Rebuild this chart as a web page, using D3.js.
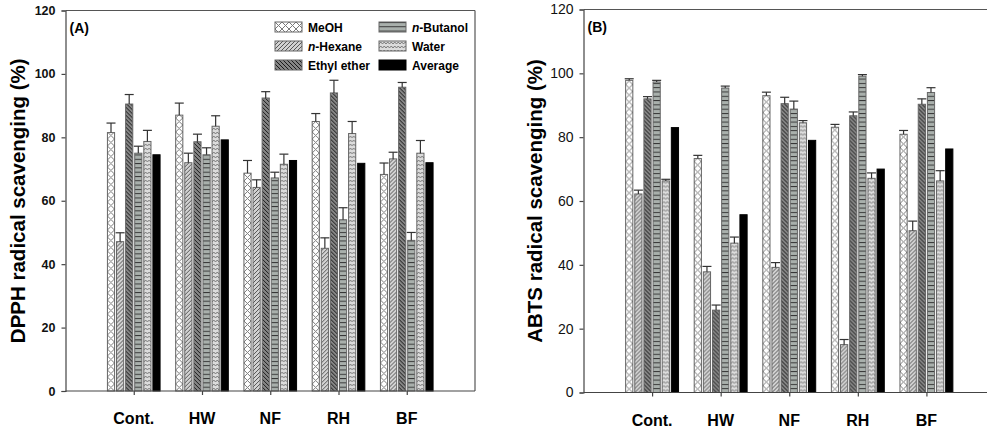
<!DOCTYPE html>
<html>
<head>
<meta charset="utf-8">
<script src="https://cdn.jsdelivr.net/npm/d3@7"></script>
<style>
    body { margin: 0; background: #fff; }
    svg { display: block; }
    .bold { font-family: "Liberation Sans", Arial, sans-serif; font-weight: bold; }
    .narrow { font-family: "Liberation Sans Narrow", "Arial Narrow", "Liberation Sans", sans-serif; }
</style>
</head>
<body>
<div id="chart"></div>
<script>
// categories and series
const categories = ["Cont.", "HW", "NF", "RH", "BF"];
const solvents = ["MeOH", "n-Hexane", "Ethyl ether", "n-Butanol", "Water", "Average"];
const yTicks = [0, 20, 40, 60, 80, 100, 120];

// (A) DPPH radical scavenging (%), one array per solvent, in category order
const dpphMeOH = [81.5, 87.0, 68.7, 85.0, 68.3];
const dpphHexane = [47.1, 72.0, 64.2, 45.0, 73.2];
const dpphEther = [90.5, 78.6, 92.4, 94.0, 95.8];
const dpphButanol = [75.0, 74.5, 67.2, 54.0, 47.5];
const dpphWater = [78.7, 83.5, 71.5, 81.2, 75.0];
const dpphAverage = [74.5, 79.2, 72.7, 71.8, 72.0];

const dpphMeOHErr = [3.0, 3.8, 4.0, 2.5, 3.6];
const dpphHexaneErr = [2.8, 3.0, 2.4, 3.3, 2.1];
const dpphEtherErr = [3.0, 2.4, 2.0, 4.0, 1.5];
const dpphButanolErr = [2.2, 2.2, 1.8, 3.8, 2.5];
const dpphWaterErr = [3.5, 3.3, 3.2, 3.8, 4.0];

// (B) ABTS radical scavenging (%)
const abtsMeOH = [97.8, 73.3, 93.0, 83.1, 80.9];
const abtsHexane = [62.2, 37.8, 39.2, 15.0, 50.7];
const abtsEther = [92.0, 25.8, 90.5, 86.7, 90.3];
const abtsButanol = [97.3, 95.4, 88.8, 99.1, 94.0];
const abtsWater = [66.3, 46.8, 84.5, 67.1, 66.3];
const abtsAverage = [83.0, 55.7, 79.0, 70.0, 76.3];

const abtsMeOHErr = [0.5, 1.0, 1.1, 0.9, 1.2];
const abtsHexaneErr = [1.2, 1.7, 1.5, 1.6, 3.0];
const abtsEtherErr = [0.7, 1.6, 2.0, 1.2, 1.7];
const abtsButanolErr = [0.5, 0.6, 2.5, 0.5, 1.5];
const abtsWaterErr = [0.5, 1.9, 0.7, 1.7, 3.2];

const svg = d3.select("#chart").append("svg")
    .attr("width", 987)
    .attr("height", 432);

// hatch patterns, one per solvent (bars are drawn in a translated group so the hatch lines up with each bar)
const defs = svg.append("defs");
const patternSpecs = [
    { id: "p0", w: 7, h: 7, bg: "#ffffff", d: "M0,0L7,7M7,0L0,7", stroke: "#7a7a7a", sw: 1 },
    { id: "p1", w: 4, h: 4, bg: "#d2d2d2", d: "M-1,1L1,-1M0,4L4,0M3,5L5,3", stroke: "#4a4a4a", sw: 0.9 },
    { id: "p2", w: 4, h: 4, bg: "#858585", d: "M-1,3L1,5M0,0L4,4M3,-1L5,1", stroke: "#1a1a1a", sw: 1 },
    { id: "p3", w: 8, h: 4.3, bg: "#a9b0ac", d: "M0,0.5L8,0.5", stroke: "#2b2b2b", sw: 0.9 },
    { id: "p4", w: 7, h: 4, bg: "#dcdcdc", d: "M0,3L1.75,1L3.5,3L5.25,1L7,3", stroke: "#6e6e6e", sw: 0.9 }
];
patternSpecs.forEach(p => {
    const pat = defs.append("pattern")
        .attr("id", p.id)
        .attr("patternUnits", "userSpaceOnUse")
        .attr("width", p.w)
        .attr("height", p.h);
    pat.append("rect").attr("width", p.w).attr("height", p.h).attr("fill", p.bg);
    pat.append("path").attr("d", p.d).attr("stroke", p.stroke).attr("stroke-width", p.sw).attr("fill", "none");
});
const fills = ["url(#p0)", "url(#p1)", "url(#p2)", "url(#p3)", "url(#p4)", "#000"];

function drawPanel(opt) {
    const x = d3.scaleLinear().domain([0, 6]).range([opt.left, opt.right]);
    const y = d3.scaleLinear().domain([0, 120]).range([opt.bottom, opt.top]);
    const g = svg.append("g");

    const step = 0.1333;      // one bar slot, in category units
    const barW = x(0.105) - x(0);

    // frame
    g.append("line").attr("x1", x(0)).attr("x2", x(6)).attr("y1", y(120)).attr("y2", y(120))
        .attr("stroke", "#555").attr("stroke-width", 1.2);
    if (opt.boxed) {
        g.append("line").attr("x1", x(6)).attr("x2", x(6)).attr("y1", y(120)).attr("y2", y(0))
            .attr("stroke", "#555").attr("stroke-width", 1.2);
    }

    // bars + error bars
    opt.series.forEach((vals, s) => {
        vals.forEach((v, i) => {
            const cx = x(i + 1) + (s - 2.5) * step * (x(1) - x(0));
            const bar = g.append("g").attr("transform", `translate(${cx - barW / 2},${y(0)})`);
            bar.append("rect")
                .attr("x", 0)
                .attr("y", y(v) - y(0))
                .attr("width", barW)
                .attr("height", y(0) - y(v))
                .attr("fill", fills[s])
                .attr("stroke", s === 5 ? "#000" : "#666")
                .attr("stroke-width", 1);
            const errs = opt.errors[s];
            if (errs) {
                const yt = y(v + errs[i]);
                g.append("line").attr("x1", cx).attr("x2", cx).attr("y1", y(v)).attr("y2", yt)
                    .attr("stroke", "#333").attr("stroke-width", 1.2);
                g.append("line").attr("x1", cx - 4.5).attr("x2", cx + 4.5).attr("y1", yt).attr("y2", yt)
                    .attr("stroke", "#333").attr("stroke-width", 1.2);
            }
        });
    });

    // axes
    const yAxis = g.append("g")
        .attr("transform", `translate(${x(0)},0)`)
        .call(d3.axisLeft(y).tickValues(yTicks).tickSize(4).tickPadding(6));
    yAxis.selectAll("text")
        .attr("class", opt.boldTicks ? "bold" : "narrow")
        .style("font-size", opt.boldTicks ? "12.5px" : "14px")
        .attr("fill", "#111");

    const xAxis = g.append("g")
        .attr("transform", `translate(0,${y(0)})`)
        .call(d3.axisBottom(x).tickValues([1, 2, 3, 4, 5]).tickSize(4).tickFormat(""));
    xAxis.select(".domain").attr("d", `M${x(0)},0H${x(6)}`);
    [yAxis, xAxis].forEach(a => {
        a.selectAll(".domain").attr("stroke", "#444").attr("stroke-width", 1.2);
        a.selectAll(".tick line").attr("stroke", "#444").attr("stroke-width", 1.2);
    });

    g.selectAll(".cat")
        .data(categories)
        .enter().append("text")
        .attr("class", "bold")
        .attr("x", (d, i) => x(i + 1))
        .attr("y", y(0) + 33)
        .attr("text-anchor", "middle")
        .style("font-size", "16px")
        .text(d => d);

    // axis title
    g.append("text")
        .attr("class", "bold")
        .attr("transform", `translate(${opt.titleX},${(y(0) + y(120)) / 2}) rotate(-90)`)
        .attr("text-anchor", "middle")
        .style("font-size", "20.5px")
        .text(opt.title);

    // panel letter
    g.append("text")
        .attr("class", "bold")
        .attr("x", x(0) + 4)
        .attr("y", y(120) + 22)
        .style("font-size", "14px")
        .text(opt.letter);

    return { x, y, g };
}

const panelA = drawPanel({
    left: 65.5, right: 475, top: 10.5, bottom: 391,
    series: [dpphMeOH, dpphHexane, dpphEther, dpphButanol, dpphWater, dpphAverage],
    errors: [dpphMeOHErr, dpphHexaneErr, dpphEtherErr, dpphButanolErr, dpphWaterErr, null],
    title: "DPPH radical scavenging (%)", titleX: 25, letter: "(A)", boldTicks: true, boxed: true
});

drawPanel({
    left: 583.5, right: 995, top: 9.5, bottom: 392.5,
    series: [abtsMeOH, abtsHexane, abtsEther, abtsButanol, abtsWater, abtsAverage],
    errors: [abtsMeOHErr, abtsHexaneErr, abtsEtherErr, abtsButanolErr, abtsWaterErr, null],
    title: "ABTS radical scavenging (%)", titleX: 542, letter: "(B)", boldTicks: false, boxed: false
});

// legend inside panel A, two columns of three
const legend = panelA.g.append("g");
solvents.forEach((name, i) => {
    const col = Math.floor(i / 3), row = i % 3;
    const lx = 275 + col * 104, ly = 22 + row * 19;
    legend.append("g").attr("transform", `translate(${lx},${ly})`)
        .append("rect")
        .attr("width", 27).attr("height", 10)
        .attr("fill", fills[i])
        .attr("stroke", i === 5 ? "#000" : "#666");
    const t = legend.append("text")
        .attr("class", "bold")
        .attr("x", lx + 33)
        .attr("y", ly + 10)
        .style("font-size", "12px");
    if (name.startsWith("n-")) {
        t.append("tspan").style("font-style", "italic").text("n");
        t.append("tspan").text(name.slice(1));
    } else {
        t.text(name);
    }
});
</script>
</body>
</html>
